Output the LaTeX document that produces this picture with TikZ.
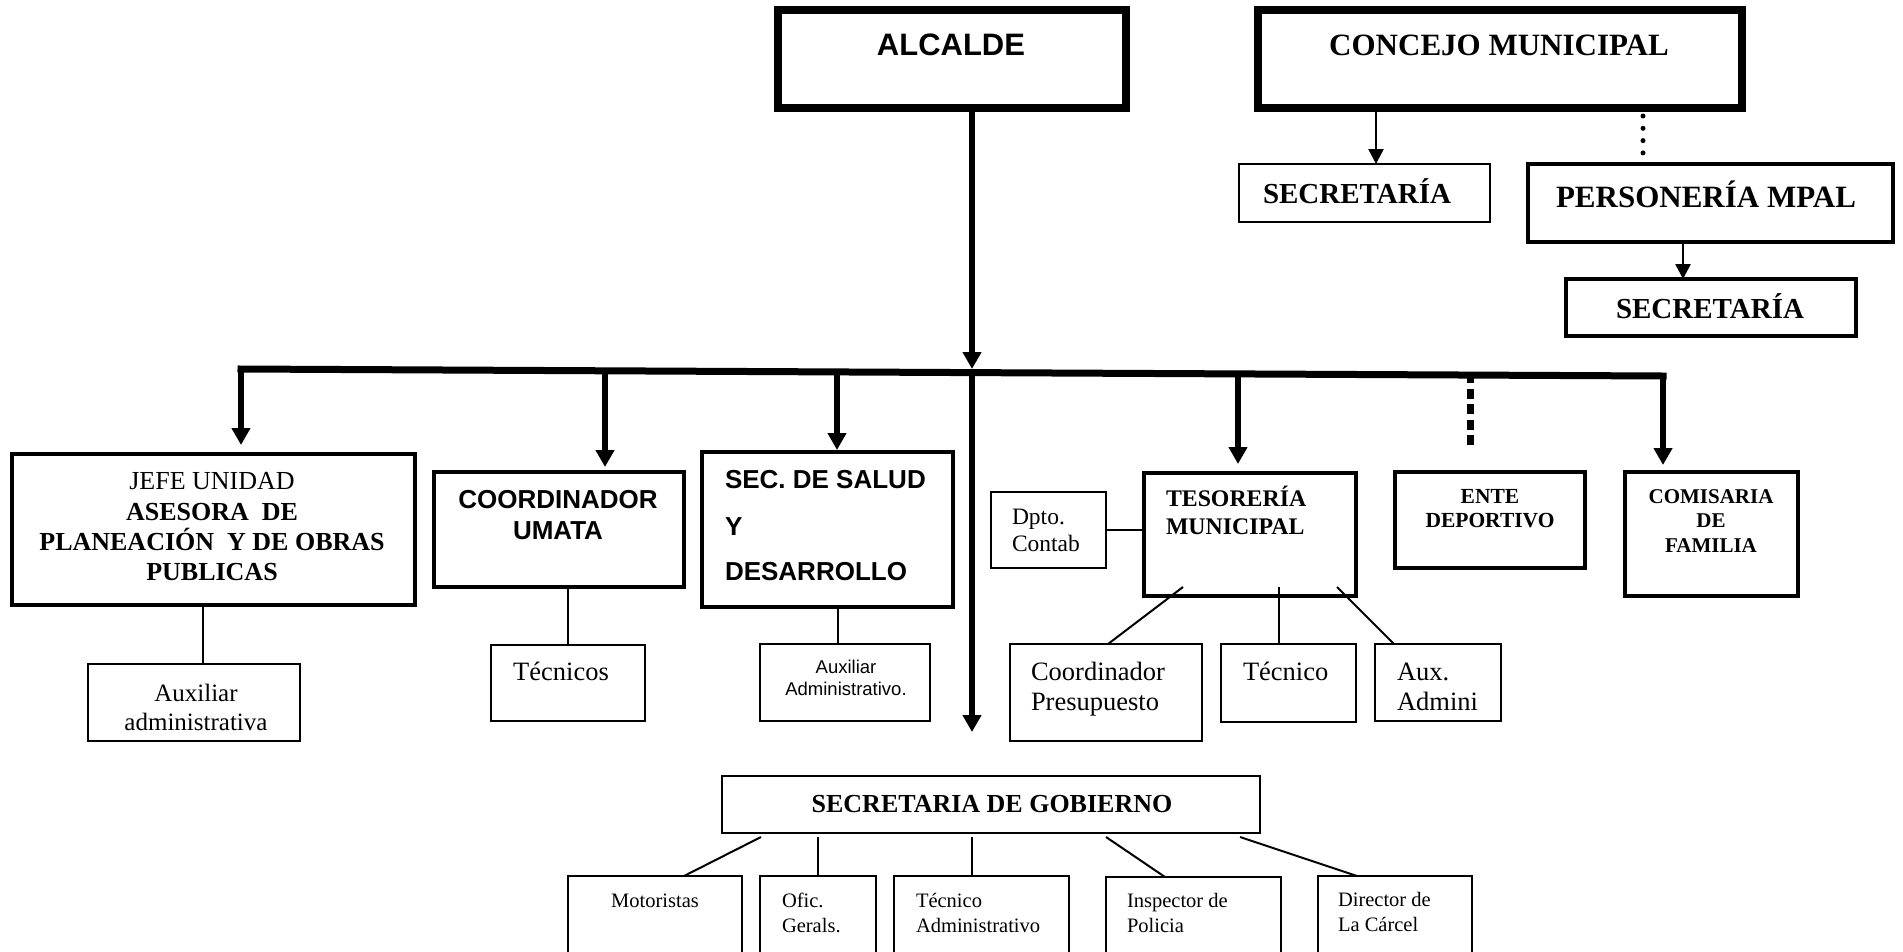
\documentclass[tikz,border=0pt]{standalone}
\usepackage{fontspec}
\setmainfont{Liberation Serif}
\newfontfamily\arialf{Liberation Sans}
\usetikzlibrary{arrows.meta,calc}
\newcommand\orgbox[6][]{%
  \node[bx,#1,minimum width={((#5)-(#3))*1pt},minimum height={((#6)-(#4))*1pt}] (#2) at ({((#3)+(#5))/2},{((#4)+(#6))/2}) {};}
\begin{document}
\begin{tikzpicture}[x=1pt,y=-1pt,
  bx/.style={draw, rectangle, inner sep=0pt, outer sep=0pt},
  bxheavy/.style={line width=8pt},
  bxmid/.style={line width=4pt},
  bxlight/.style={line width=2pt},
  ln/.style={line width=2pt},
  arrsm/.style={line width=2.5pt, -{Triangle[width=15pt,length=15pt]}},
  arrbig/.style={line width=5.5pt, -{Triangle[width=18pt,length=17pt]}},
  trunkln/.style={line width=6pt, -{Triangle[width=18pt,length=17pt]}},
  busln/.style={line width=7pt, line cap=rect},
  dotln/.style={line width=5pt, line cap=round, dash pattern=on 0pt off 12.3pt},
  dashln/.style={line width=7pt, dash pattern=on 10pt off 5.5pt},
  tx/.style={inner sep=0pt, outer sep=0pt, anchor=base},
  txl/.style={inner sep=0pt, outer sep=0pt, anchor=base west},
  fAB/.style={font=\arialf\bfseries\fontsize{#1}{#1}\selectfont},
  fA/.style={font=\arialf\fontsize{#1}{#1}\selectfont},
  fTB/.style={font=\bfseries\fontsize{#1}{#1}\selectfont},
  fT/.style={font=\fontsize{#1}{#1}\selectfont}
]
\useasboundingbox (0,0) rectangle (1903,951);
\clip (0,0) rectangle (1903,951);

% ---------- boxes ----------
\orgbox[bxheavy]{alcalde}{778}{10}{1126}{108}
\orgbox[bxheavy]{concejo}{1258}{10}{1742}{108}
\orgbox[line width=2.5pt]{secA}{1239}{164}{1490}{222}
\orgbox[line width=3.5pt]{pers}{1528}{164}{1893}{242}
\orgbox[line width=3.5pt]{secB}{1566}{279}{1856}{336}

\orgbox[bxmid]{jefe}{12}{454}{415}{605}
\orgbox[bxlight]{auxA}{88}{664}{300}{741}
\orgbox[bxmid]{umata}{434}{472}{684}{587}
\orgbox[bxlight]{tecs}{491}{645}{645}{721}
\orgbox[bxmid]{salud}{702}{452}{953}{607}
\orgbox[bxlight]{auxS}{760}{644}{930}{721}
\orgbox[bxlight]{dpto}{991}{492}{1106}{568}
\orgbox[bxmid]{teso}{1144}{473}{1356}{596}
\orgbox[bxlight]{coordP}{1010}{644}{1202}{741}
\orgbox[bxlight]{tec}{1221}{644}{1356}{722}
\orgbox[bxlight]{aux}{1375}{644}{1501}{721}
\orgbox[bxmid]{ente}{1395}{472}{1585}{568}
\orgbox[bxmid]{comis}{1625}{472}{1798}{596}
\orgbox[bxlight]{gob}{722}{776}{1260}{833}
\orgbox[bxlight]{mot}{568}{876}{742}{990}
\orgbox[bxlight]{ofic}{760}{876}{876}{990}
\orgbox[bxlight]{tadm}{894}{876}{1069}{990}
\orgbox[bxlight]{insp}{1106}{877}{1281}{990}
\orgbox[bxlight]{dir}{1318}{876}{1472}{990}

% ---------- texts ----------
\node[tx,fAB=31] (tAlc) at (951,55) {ALCALDE};
\node[tx,fTB=31] (tCon) at (1499,55) {CONCEJO MUNICIPAL};
\node[tx,fTB=29] (tSecA) at (1357,203) {SECRETARÍA};
\node[tx,fTB=31] (tPers) at (1706,207) {PERSONERÍA MPAL};
\node[tx,fTB=29] (tSecB) at (1710,318) {SECRETARÍA};

\node[tx,fT=26] (tJ1) at (212,489) {JEFE UNIDAD};
\node[tx,fTB=26] (tJ2) at (212,520) {ASESORA\ \ DE};
\node[tx,fTB=26] (tJ3) at (212,550) {PLANEACIÓN\ \ Y DE OBRAS};
\node[tx,fTB=26] (tJ4) at (212,580) {PUBLICAS};
\node[tx,fT=25] (tAA1) at (196,701) {Auxiliar};
\node[tx,fT=25] (tAA2) at (196,730) {administrativa};

\node[tx,fAB=26] (tU1) at (558,508) {COORDINADOR};
\node[tx,fAB=26] (tU2) at (558,539) {UMATA};
\node[tx,fT=26.5] (tTecs) at (561,680) {Técnicos};

\node[txl,fAB=26] (tS1) at (725,488) {SEC. DE SALUD};
\node[txl,fAB=26] (tS2) at (725,535) {Y};
\node[txl,fAB=26] (tS3) at (725,580) {DESARROLLO};
\node[tx,fA=18.5] (tAS1) at (846,673) {Auxiliar};
\node[tx,fA=18.5] (tAS2) at (846,695) {Administrativo.};

\node[txl,fT=23.5] (tD1) at (1012,524) {Dpto.};
\node[txl,fT=23.5] (tD2) at (1012,551) {Contab};
\node[txl,fTB=23.8] (tT1) at (1166,506) {TESORERÍA};
\node[txl,fTB=23.8] (tT2) at (1166,534) {MUNICIPAL};
\node[txl,fT=26.5] (tC1) at (1031,680) {Coordinador};
\node[txl,fT=26.5] (tC2) at (1031,710) {Presupuesto};
\node[txl,fT=26.5] (tTec) at (1243,680) {Técnico};
\node[txl,fT=26.5] (tX1) at (1397,680) {Aux.};
\node[txl,fT=26.5] (tX2) at (1397,710) {Admini};

\node[tx,fTB=21.5] (tE1) at (1490,503) {ENTE};
\node[tx,fTB=21.5] (tE2) at (1490,527) {DEPORTIVO};
\node[tx,fTB=21] (tK1) at (1711,503) {COMISARIA};
\node[tx,fTB=21] (tK2) at (1711,527) {DE};
\node[tx,fTB=21] (tK3) at (1711,552) {FAMILIA};

\node[tx,fTB=26] (tGob) at (992,812) {SECRETARIA DE GOBIERNO};
\node[tx,fT=20.5] (tM) at (655,907) {Motoristas};
\node[txl,fT=20.5] (tO1) at (782,907) {Ofic.};
\node[txl,fT=20.5] (tO2) at (782,932) {Gerals.};
\node[txl,fT=20.5] (tA1) at (916,907) {Técnico};
\node[txl,fT=20.5] (tA2) at (916,932) {Administrativo};
\node[txl,fT=20.5] (tI1) at (1127,907) {Inspector de};
\node[txl,fT=20.5] (tI2) at (1127,932) {Policia};
\node[txl,fT=20.5] (tR1) at (1338,906) {Director de};
\node[txl,fT=20.5] (tR2) at (1338,931) {La Cárcel};

% ---------- top connectors ----------
\draw[arrsm] ([xshift=118pt]concejo.south west) -- ([xshift=137pt]secA.north west);
\draw[dotln, shorten <=8pt, shorten >=6pt] ([xshift=385pt]concejo.south west) -- ([xshift=115pt]pers.north west);
\draw[arrsm] ([xshift=155pt]pers.south west) -- ([xshift=117pt]secB.north west);

% ---------- trunk and bus ----------
\coordinate (busL) at (241,369);
\coordinate (busR) at (1663,376);
\coordinate (b2) at (605,370.8);
\coordinate (b3) at (837,371.9);
\coordinate (tj) at (972,372.6);
\coordinate (b4) at (1238,373.9);
\coordinate (b5) at (1470,373);
\coordinate (tEnd) at (972,732);

\draw[busln] (busL) -- (busR);
\draw[trunkln, shorten >=3.6pt] ([xshift=194pt]alcalde.south west) -- (tj);
\draw[trunkln] (tj) -- (tEnd);

\draw[arrbig, shorten >=9pt] (busL) -- (busL |- jefe.north);
\draw[arrbig, shorten >=5pt] (b2) -- (b2 |- umata.north);
\draw[arrbig, shorten >=2pt] (b3) -- (b3 |- salud.north);
\draw[arrbig, shorten >=9pt] (b4) -- (b4 |- teso.north);
\draw[dashln, shorten >=24pt] (b5) -- (b5 |- ente.north);
\draw[arrbig, shorten >=7pt] (busR) -- (busR |- comis.north);

% ---------- thin connectors ----------
\draw[ln] ([xshift=191pt]jefe.south west) -- ([xshift=115pt]auxA.north west);
\draw[ln] ([xshift=134pt]umata.south west) -- ([xshift=77pt]tecs.north west);
\draw[ln] ([xshift=136pt]salud.south west) -- ([xshift=78pt]auxS.north west);
\draw[ln] (dpto.east) -- (dpto.east -| teso.west);
\draw[ln] ([xshift=39pt,yshift=9pt]teso.south west) -- ([xshift=98pt]coordP.north west);
\draw[ln] ([xshift=135pt,yshift=9pt]teso.south west) -- ([xshift=58pt]tec.north west);
\draw[ln] ([xshift=193pt,yshift=9pt]teso.south west) -- ([xshift=19pt]aux.north west);

\draw[ln] ([xshift=39pt,yshift=-4pt]gob.south west) -- ([xshift=116pt]mot.north west);
\draw[ln] ([xshift=96pt,yshift=-4pt]gob.south west) -- ([xshift=58pt]ofic.north west);
\draw[ln] ([xshift=250pt,yshift=-4pt]gob.south west) -- ([xshift=78pt]tadm.north west);
\draw[ln] ([xshift=384pt,yshift=-4pt]gob.south west) -- ([xshift=59pt]insp.north west);
\draw[ln] ([xshift=518pt,yshift=-4pt]gob.south west) -- ([xshift=39pt]dir.north west);
\end{tikzpicture}
\end{document}
